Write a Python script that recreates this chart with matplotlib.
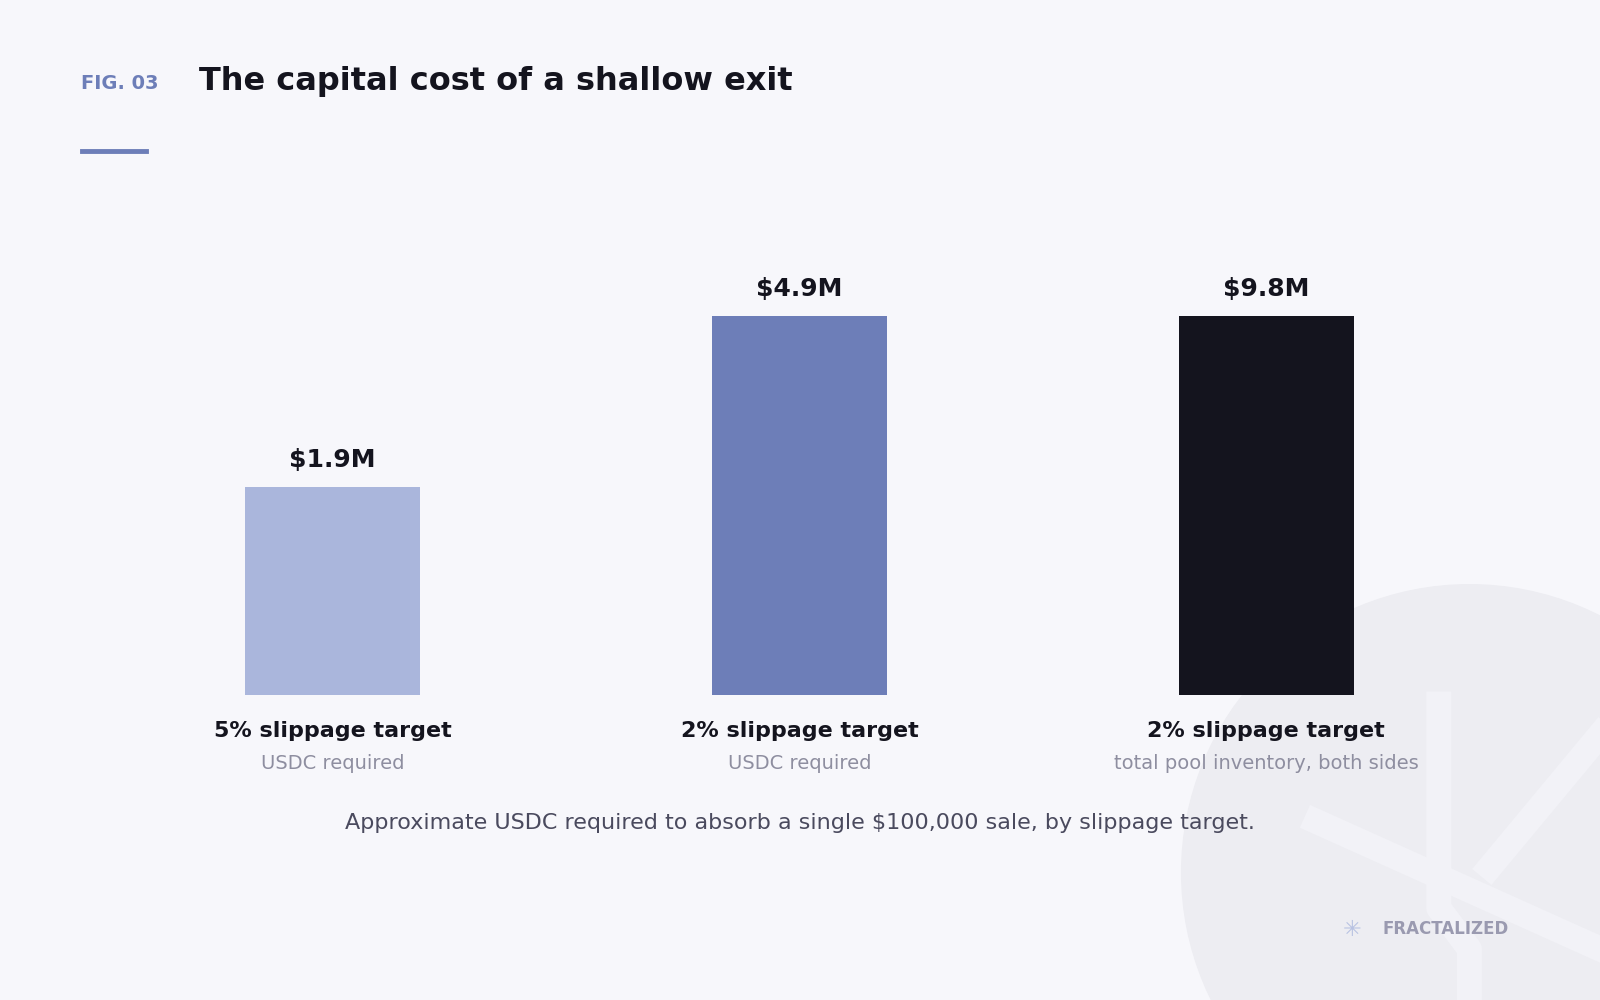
import matplotlib.pyplot as plt
from matplotlib.patches import Circle

categories = ["5% slippage target", "2% slippage target", "2% slippage target"]
subtitles = ["USDC required", "USDC required", "total pool inventory, both sides"]
value_labels = ["$1.9M", "$4.9M", "$9.8M"]
# relative bar heights as drawn in the reference (bars 2 and 3 are capped at the same height)
bar_heights = [0.55, 1.0, 1.0]
colors = ["#AAB6DC", "#6D7EB8", "#14141E"]

W, H = 1568, 980
bg = "#F7F7FB"
fig = plt.figure(figsize=(16, 10), dpi=100)
fig.patch.set_facecolor(bg)

# decorative background circle
deco = fig.add_axes([0, 0, 1, 1], zorder=0)
deco.set_xlim(0, W); deco.set_ylim(H, 0); deco.set_aspect("auto"); deco.axis("off")
deco.add_patch(Circle((1440, 855), 282, color="#EDEDF2", zorder=0))
deco.plot([1410, 1410, 1440, 1440], [690, 890, 930, 980], color="#F2F2F7", lw=18, zorder=1)
deco.plot([1290, 1568], [805, 930], color="#F2F2F7", lw=18, zorder=1)
deco.plot([1460, 1568], [850, 720], color="#F2F2F7", lw=18, zorder=1)

def fx(px): return px / W
def fy(py): return 1 - py / H

ax = fig.add_axes([0, fy(681), 1, fy(310) - fy(681)], zorder=2)
ax.patch.set_alpha(0)
spacing = (1241 - 326) / 2
ax.set_xlim(-326 / spacing, (W - 326) / spacing)
ax.set_ylim(0, 1)
ax.axis("off")
x = list(range(len(categories)))
ax.bar(x, bar_heights, width=172 / spacing, color=colors)
for i, h in enumerate(bar_heights):
    ax.text(i, h + 0.04, value_labels[i], ha="center", va="bottom", fontsize=18,
            fontweight="bold", color="#14141E")
    ax.text(i, -0.07, categories[i], ha="center", va="top", fontsize=16,
            fontweight="bold", color="#14141E", clip_on=False)
    ax.text(i, -0.155, subtitles[i], ha="center", va="top", fontsize=14,
            color="#8E8EA0", clip_on=False)

fig.text(fx(79), fy(82), "FIG. 03", fontsize=14, fontweight="bold", color="#6D7EB8",
         va="center", ha="left")
fig.text(fx(195), fy(80), "The capital cost of a shallow exit", fontsize=23,
         fontweight="bold", color="#14141E", va="center", ha="left")
fig.add_artist(plt.Line2D([fx(80), fx(143)], [fy(148), fy(148)], color="#6D7EB8", lw=3.5))
fig.text(fx(784), fy(807), "Approximate USDC required to absorb a single $100,000 sale, by slippage target.",
         fontsize=16, color="#4A4A5E", ha="center", va="center")
fig.text(fx(1355), fy(910), "FRACTALIZED", fontsize=12, fontweight="bold", color="#9A9AB0",
         ha="left", va="center")
fig.text(fx(1325), fy(911), "✳", fontsize=16, color="#B8C2E2", ha="center", va="center")

fig.savefig("out.png", dpi=100, facecolor=bg)
